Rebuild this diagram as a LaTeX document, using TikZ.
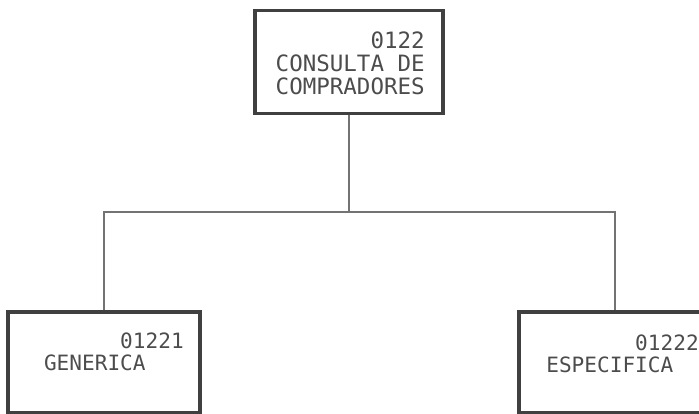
\documentclass[tikz,border=0pt]{standalone}
\usepackage{fontspec}
\setmonofont{DejaVu Sans Mono}
\tikzset{
  modbox/.style={draw=black!75, line width=2.2pt, minimum width=#1},
  modtxt/.style={text=black!70, inner sep=0pt, align=right, anchor=north east,
    font=\ttfamily\fontsize{15}{15.6}\selectfont},
  enlace/.style={draw=black!55, line width=0.9pt}
}
\begin{document}
\begin{tikzpicture}[x=0.025cm,y=-0.025cm]
      \useasboundingbox (0,0) rectangle (699,414);
      % modulos
      \node[modbox=4.7cm, minimum height=2.575cm] (cons) at (349,62) {};
      \node[modbox=4.8cm, minimum height=2.525cm] (gen) at (104,362.5) {};
      \node[modbox=4.8cm, minimum height=2.525cm] (esp) at (615,362.5) {};
      \node[modtxt, font=\ttfamily\fontsize{16}{16.3}\selectfont] (consT) at (425,32) {0122\\CONSULTA DE\\COMPRADORES};
      \node[modtxt] (genT) at (184,333) {01221\\GENERICA\phantom{XXX}};
      \node[modtxt] (espT) at (699,335) {01222\\ESPECIFICA\phantom{XX}};
      % enlaces
      \coordinate (union) at (349,212);
      \draw[enlace] (cons.south) -- (union);
      \draw[enlace] (gen.north) |- (union) -| (esp.north);
\end{tikzpicture}
\end{document}
